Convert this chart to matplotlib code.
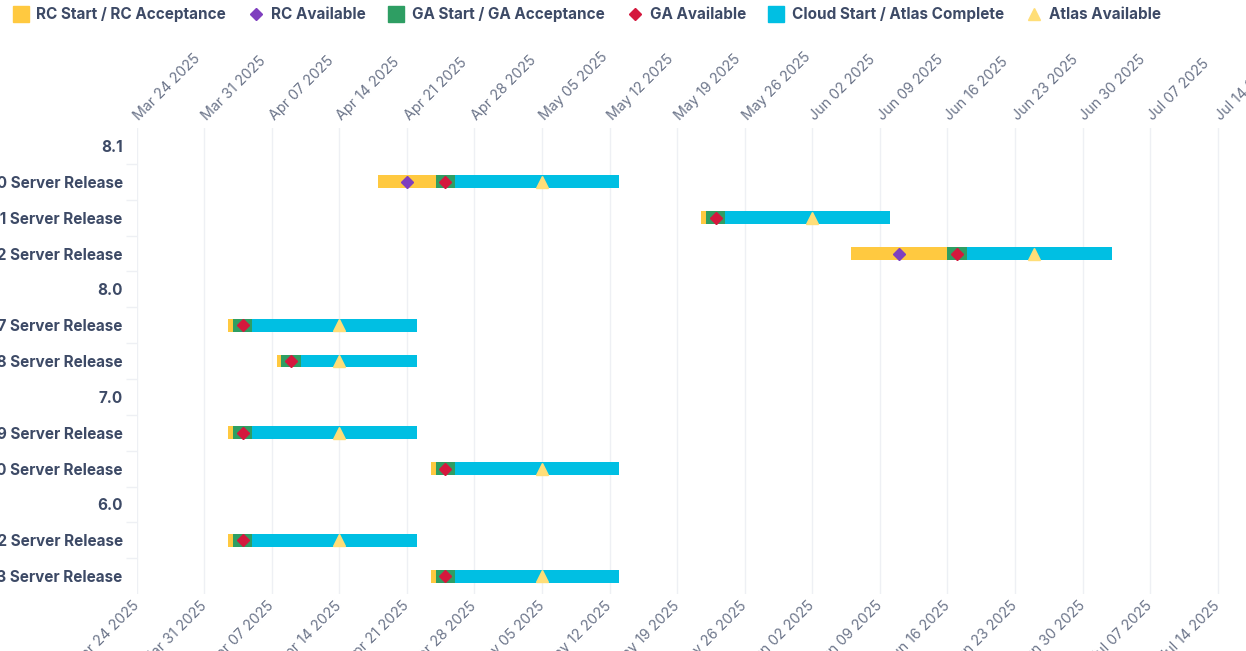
import pandas as pd
import matplotlib
matplotlib.use("Agg")
import matplotlib.pyplot as plt
import matplotlib.dates as mdates
from matplotlib.lines import Line2D

plt.rcParams['font.family'] = ['Inter', 'DejaVu Sans']

# rows from top to bottom; group headings have no dates
rows = ["8.1", "8.1.0 Server Release", "8.1.1 Server Release", "8.1.2 Server Release",
        "8.0", "8.0.7 Server Release", "8.0.8 Server Release",
        "7.0", "7.0.19 Server Release", "7.0.20 Server Release",
        "6.0", "6.0.22 Server Release", "6.0.23 Server Release"]

rc_start = [None, "2025-04-18", "2025-05-21 12:00", "2025-06-06",
            None, "2025-04-02 12:00", "2025-04-07 12:00",
            None, "2025-04-02 12:00", "2025-04-23 12:00",
            None, "2025-04-02 12:00", "2025-04-23 12:00"]
rc_accept = [None, "2025-04-24", "2025-05-22", "2025-06-16",
             None, "2025-04-03", "2025-04-08",
             None, "2025-04-03", "2025-04-24",
             None, "2025-04-03", "2025-04-24"]
rc_available = [None, "2025-04-21", None, "2025-06-11",
                None, None, None,
                None, None, None,
                None, None, None]
ga_accept = [None, "2025-04-26", "2025-05-24", "2025-06-18",
             None, "2025-04-05", "2025-04-10",
             None, "2025-04-05", "2025-04-26",
             None, "2025-04-05", "2025-04-26"]
ga_available = [None, "2025-04-25", "2025-05-23", "2025-06-17",
                None, "2025-04-04", "2025-04-09",
                None, "2025-04-04", "2025-04-25",
                None, "2025-04-04", "2025-04-25"]
atlas_complete = [None, "2025-05-13", "2025-06-10", "2025-07-03",
                  None, "2025-04-22", "2025-04-22",
                  None, "2025-04-22", "2025-05-13",
                  None, "2025-04-22", "2025-05-13"]
atlas_available = [None, "2025-05-05", "2025-06-02", "2025-06-25",
                   None, "2025-04-14", "2025-04-14",
                   None, "2025-04-14", "2025-05-05",
                   None, "2025-04-14", "2025-05-05"]

C_RC = "#FFC940"
C_RC_AV = "#7F3FBF"
C_GA = "#2E9E63"
C_GA_AV = "#D4183D"
C_CLOUD = "#00BFE3"
C_ATLAS = "#FFDE78"
TEXT = "#3d4a66"
TICK = "#6b7489"
GRID = "#eef0f4"


def num(v):
    return mdates.date2num(pd.Timestamp(v)) if v else None


fig = plt.figure(figsize=(12.46, 6.51), dpi=100)
ax = fig.add_axes([0.1096, 0.0875, 0.891, 0.7158])

bar_h = 0.36
for i in range(len(rows)):
    if rc_start[i] is None:
        continue
    a, b, c, d = num(rc_start[i]), num(rc_accept[i]), num(ga_accept[i]), num(atlas_complete[i])
    ax.barh(i, b - a, left=a, height=bar_h, color=C_RC, zorder=2)
    ax.barh(i, c - b, left=b, height=bar_h, color=C_GA, zorder=2)
    ax.barh(i, d - c, left=c, height=bar_h, color=C_CLOUD, zorder=2)
    if rc_available[i]:
        ax.plot(num(rc_available[i]), i, marker='D', ms=6.5, color=C_RC_AV, zorder=3)
    ax.plot(num(ga_available[i]), i, marker='D', ms=6.5, color=C_GA_AV, zorder=3)
    ax.plot(num(atlas_available[i]), i, marker='^', ms=9, color=C_ATLAS, zorder=3)

ax.set_xlim(num("2025-03-24"), num("2025-07-17"))
ax.set_ylim(len(rows) - 0.5, -0.5)

ax.xaxis.set_major_locator(mdates.WeekdayLocator(byweekday=mdates.MO))
ax.xaxis.set_major_formatter(mdates.DateFormatter('%b %d %Y'))
ax.tick_params(axis='x', top=True, labeltop=True, bottom=True, labelbottom=True,
               length=0, pad=7, labelsize=10.3, labelcolor=TICK)
for t in ax.xaxis.get_major_ticks():
    t.label1.set_rotation(45)
    t.label1.set_rotation_mode('anchor')
    t.label1.set_ha('right')
    t.label1.set_va('center')
    t.label2.set_rotation(45)
    t.label2.set_rotation_mode('anchor')
    t.label2.set_ha('left')
    t.label2.set_va('center')
ax.grid(axis='x', color=GRID, linewidth=1, zorder=0)

ax.set_yticks(range(len(rows)))
ax.set_yticklabels(rows, fontsize=11, fontweight='bold', color=TEXT)
ax.set_yticks([i + 0.5 for i in range(len(rows) - 1)], minor=True)
ax.tick_params(axis='y', which='major', length=0, pad=10)
ax.tick_params(axis='y', which='minor', length=8, color=GRID, width=1)

for s in ax.spines.values():
    s.set_visible(False)

handles = [
    Line2D([], [], marker='s', ls='none', ms=12, color=C_RC, label="RC Start / RC Acceptance"),
    Line2D([], [], marker='D', ls='none', ms=6, color=C_RC_AV, label="RC Available"),
    Line2D([], [], marker='s', ls='none', ms=12, color=C_GA, label="GA Start / GA Acceptance"),
    Line2D([], [], marker='D', ls='none', ms=6, color=C_GA_AV, label="GA Available"),
    Line2D([], [], marker='s', ls='none', ms=12, color=C_CLOUD, label="Cloud Start / Atlas Complete"),
    Line2D([], [], marker='^', ls='none', ms=8, color=C_ATLAS, label="Atlas Available"),
]
leg = fig.legend(handles=handles, loc='upper left', bbox_to_anchor=(0.002, 1.005), ncol=6,
                 frameon=False, fontsize=11, handlelength=1.0, handletextpad=0.5,
                 columnspacing=1.48, borderaxespad=0.3)
for txt in leg.get_texts():
    txt.set_color(TEXT)
    txt.set_fontweight('bold')

fig.savefig("out.png", dpi=100)
